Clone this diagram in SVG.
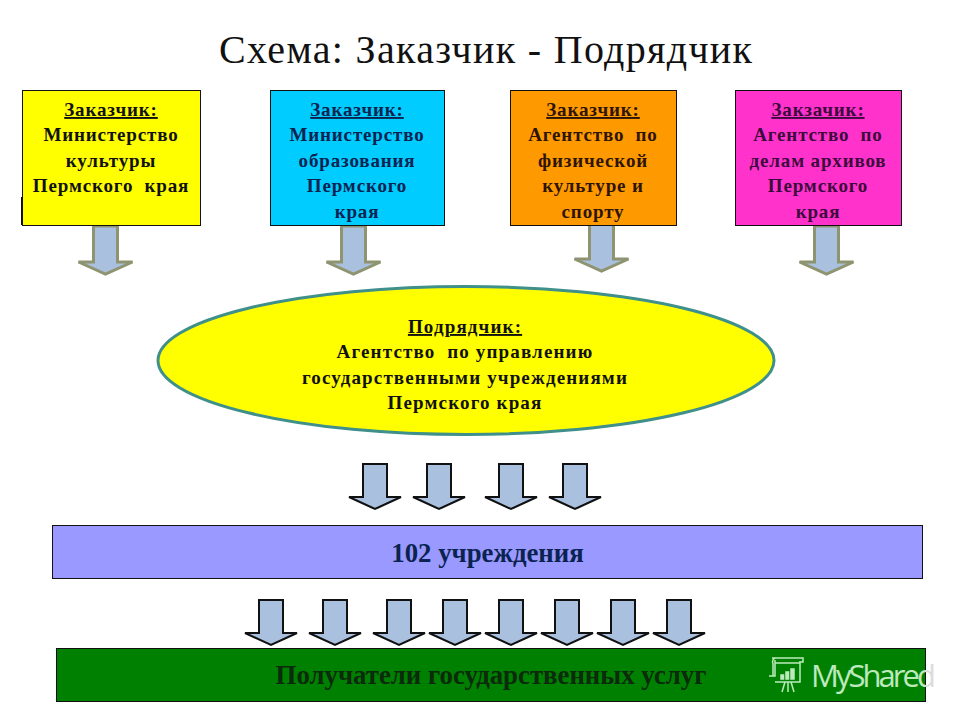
<svg xmlns="http://www.w3.org/2000/svg" width="960" height="720" viewBox="0 0 960 720">
<style>
text{font-family:"Liberation Serif","Times New Roman",serif;text-anchor:middle;fill:#111}
.t{font-size:19px;font-weight:bold;letter-spacing:.85px}
.e{letter-spacing:1.15px}
.u{text-decoration:underline}
.navy{fill:#0b2350}
.brown{fill:#2e1404}
.plum{fill:#3d0a3d}
.box{stroke:#111;stroke-width:1}
.big{font-size:26.800px;font-weight:bold}
.a1{fill:#a9c0de;stroke:#8f9470;stroke-width:3}
.a2{fill:#a9c0de;stroke:#111;stroke-width:2}
.wm{font-family:"Open Sans","Noto Sans",sans-serif;text-anchor:start;font-size:31px;fill:url(#wmfill)}
</style>
<defs>
<polygon id="ta" class="a1" points="-12,0 12,0 12,36 27,36 0,48 -27,36 -12,36"/>
<polygon id="da" class="a2" points="-12,0 12,0 12,33 26,33 0,45 -26,33 -12,33"/>
<linearGradient id="wmfill" gradientUnits="userSpaceOnUse" x1="811" y1="0" x2="936" y2="0">
<stop offset="0.912" stop-color="#bdeabd"/>
<stop offset="0.912" stop-color="#dcdcdc"/>
</linearGradient>
</defs>
<rect width="960" height="720" fill="#fff"/>
<text id="title" x="485.500" y="63" font-size="40" textLength="533" lengthAdjust="spacing">Схема: Заказчик - Подрядчик</text>
<g id="connectors">
<use href="#ta" x="105.500" y="226"/>
<use href="#ta" x="353.500" y="226"/>
<use href="#ta" x="601.500" y="223"/>
<use href="#ta" x="826.500" y="226"/>
<use href="#da" x="375" y="464"/>
<use href="#da" x="439" y="464"/>
<use href="#da" x="511" y="464"/>
<use href="#da" x="575" y="464"/>
<use href="#da" x="271" y="600"/>
<use href="#da" x="335" y="600"/>
<use href="#da" x="399" y="600"/>
<use href="#da" x="455" y="600"/>
<use href="#da" x="511" y="600"/>
<use href="#da" x="567" y="600"/>
<use href="#da" x="623" y="600"/>
<use href="#da" x="679" y="600"/>
</g>
<g id="node-1">
<rect class="box" x="22.500" y="90.500" width="178" height="135" fill="#ffff00"/>
<path d="M21.500 197V225" stroke="#111" stroke-width="1"/>
<text class="t u" x="111" y="116">Заказчик:</text>
<text class="t" x="111" y="141">Министерство</text>
<text class="t" x="111" y="167">культуры</text>
<text class="t" x="111" y="192" xml:space="preserve">Пермского  края</text>
</g>
<g id="node-2">
<rect class="box" x="270.500" y="90.500" width="174" height="135" fill="#00ccff"/>
<text class="t u navy" x="357" y="116">Заказчик:</text>
<text class="t navy" x="357" y="141">Министерство</text>
<text class="t navy" x="357" y="167">образования</text>
<text class="t navy" x="357" y="192">Пермского</text>
<text class="t navy" x="357" y="218">края</text>
</g>
<g id="node-3">
<rect class="box" x="510.500" y="90.500" width="166" height="135" fill="#ff9900"/>
<text class="t u brown" x="593" y="116">Заказчик:</text>
<text class="t brown" x="593" y="141" xml:space="preserve">Агентство  по</text>
<text class="t brown" x="593" y="167">физической</text>
<text class="t brown" x="593" y="192">культуре и</text>
<text class="t brown" x="593" y="218">спорту</text>
</g>
<g id="node-4">
<rect class="box" x="735.500" y="90.500" width="166" height="135" fill="#ff33cc"/>
<text class="t u plum" x="818" y="116">Закзачик:</text>
<text class="t plum" x="818" y="141" xml:space="preserve">Агентство  по</text>
<text class="t plum" x="818" y="167">делам архивов</text>
<text class="t plum" x="818" y="192">Пермского</text>
<text class="t plum" x="818" y="218">края</text>
</g>
<g id="node-contractor">
<ellipse cx="466" cy="360.500" rx="308" ry="74" fill="#ffff00" stroke="#3f8f8a" stroke-width="3"/>
<text class="t e u" x="465" y="333">Подрядчик:</text>
<text class="t e" x="465" y="358" xml:space="preserve">Агентство  по управлению</text>
<text class="t e" x="465" y="384">государственными учреждениями</text>
<text class="t e" x="465" y="409">Пермского края</text>
</g>
<g id="node-institutions">
<rect class="box" x="52.500" y="525.500" width="870" height="53" fill="#9999ff"/>
<text class="big navy" x="487.500" y="562">102 учреждения</text>
</g>
<g id="node-recipients">
<rect class="box" x="56.500" y="648.500" width="869" height="53" fill="#008000"/>
<text class="big" x="491" y="684" style="fill:#0c2a0c">Получатели государственных услуг</text>
</g>
<g id="watermark" fill="none" stroke="#bdeabd" stroke-width="1.500">
<path d="M772 658H803V662H799M776 658C773 658 772 661 773 664V676L769 676H775V660M775 663H800V682H775M785 682L782 692M788 682V692M791 682L794 692"/>
<rect x="781" y="675" width="2.500" height="4" fill="#bdeabd"/>
<rect x="786" y="672" width="2.500" height="7" fill="#bdeabd"/>
<rect x="791" y="669" width="3" height="10" fill="#bdeabd"/>
<text class="wm" x="811" y="687" stroke="none" textLength="125">MyShared</text>
</g>
</svg>
